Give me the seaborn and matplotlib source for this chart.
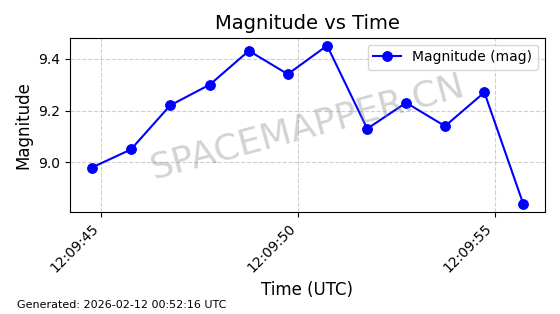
import matplotlib
matplotlib.use("Agg")
import matplotlib.pyplot as plt
import matplotlib.dates as mdates
import seaborn as sns
import pandas as pd

times = ["12:09:44.75", "12:09:45.75", "12:09:46.75", "12:09:47.76", "12:09:48.75",
         "12:09:49.74", "12:09:50.74", "12:09:51.76", "12:09:52.75", "12:09:53.74",
         "12:09:54.74", "12:09:55.73"]
magnitudes = [8.98, 9.05, 9.22, 9.30, 9.43, 9.34, 9.45, 9.13, 9.23, 9.14, 9.27, 8.84]

df = pd.DataFrame({"time": pd.to_datetime(["2026-02-12 " + t for t in times]),
                   "mag": magnitudes})

plt.rcdefaults()
plt.rcParams['font.family'] = ['DejaVu Sans']

fig, ax = plt.subplots(figsize=(5.6, 3.14), dpi=100)
sns.lineplot(data=df, x="time", y="mag", ax=ax, color="blue", marker="o",
             markersize=7, markeredgecolor="blue", linewidth=1.5,
             label="Magnitude (mag)")
ax.set_title("Magnitude vs Time", fontsize=14)
ax.set_xlabel("Time (UTC)", fontsize=12)
ax.set_ylabel("Magnitude", fontsize=12)
ax.xaxis.set_major_locator(mdates.SecondLocator(bysecond=[0, 5, 10, 15, 20, 25, 30, 35, 40, 45, 50, 55]))
ax.xaxis.set_major_formatter(mdates.DateFormatter("%H:%M:%S"))
ax.set_yticks([9.0, 9.2, 9.4])
plt.setp(ax.get_xticklabels(), rotation=45, ha="right")
ax.grid(True, linestyle="--", alpha=0.6)
ax.legend(loc="upper right")
ax.text(0.5, 0.49, "SPACEMAPPER.CN", transform=ax.transAxes, fontsize=26,
        color="gray", alpha=0.35, ha="center", va="center", rotation=15)
fig.text(0.03, 0.02, "Generated: 2026-02-12 00:52:16 UTC", fontsize=8)
fig.subplots_adjust(left=0.125, right=0.973, top=0.88, bottom=0.325)
fig.savefig("out.png", dpi=100)
